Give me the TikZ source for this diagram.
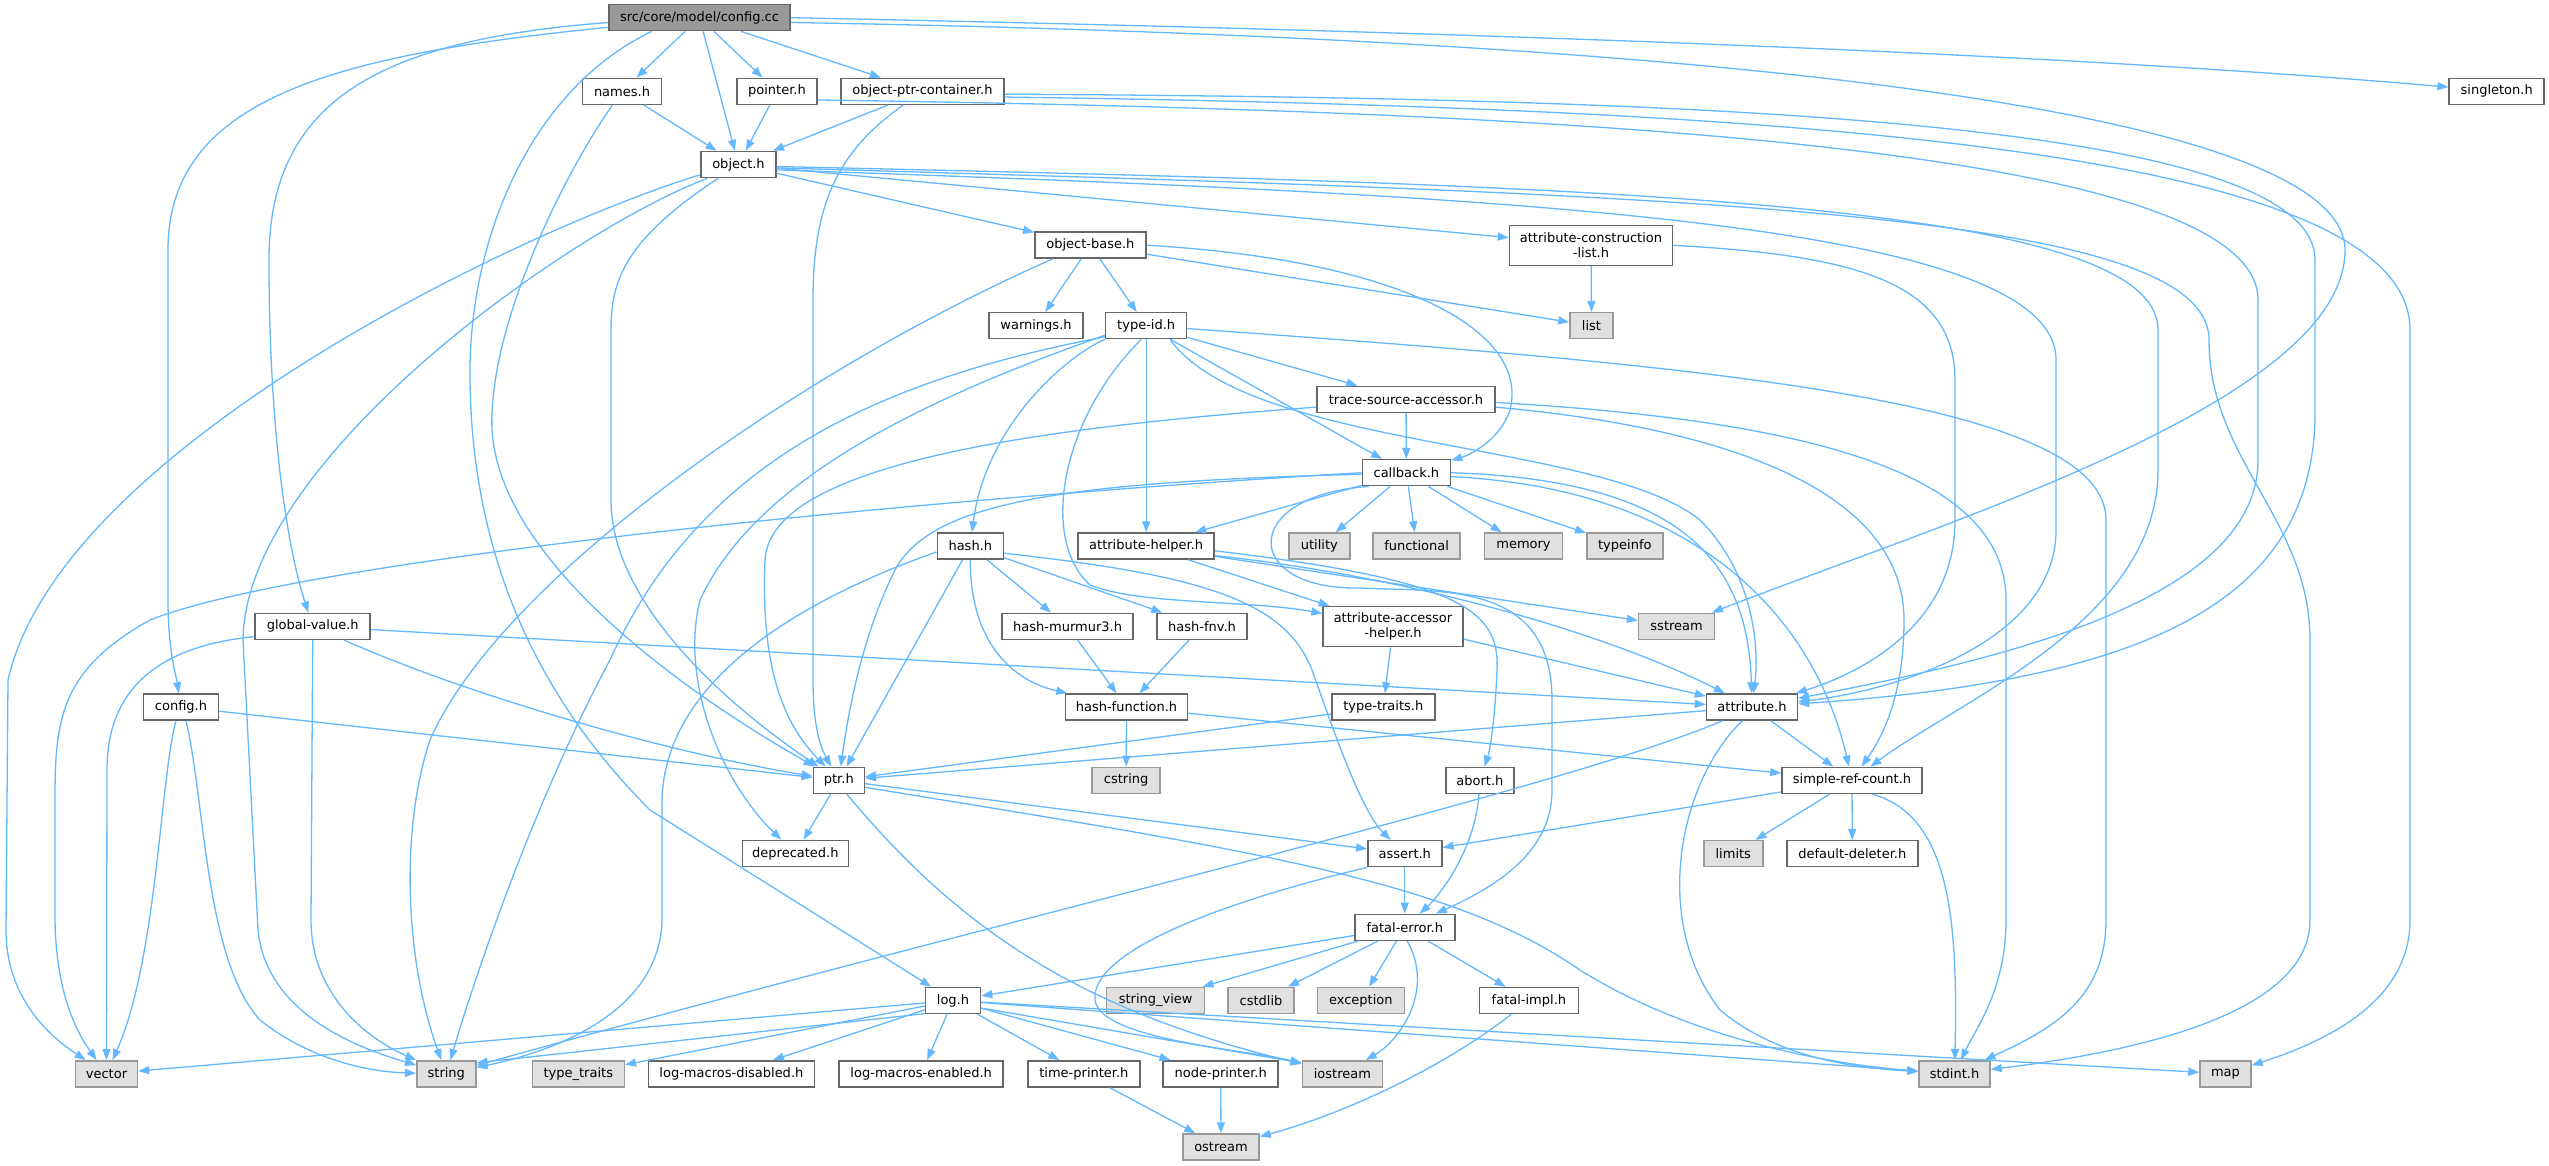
\documentclass[tikz,border=0pt]{standalone}
\usepackage{fontspec}
\setmainfont{DejaVu Sans}
\usetikzlibrary{arrows.meta}
\definecolor{eblue}{HTML}{63B8FF}
\definecolor{bdark}{HTML}{666666}
\definecolor{bmid}{HTML}{999999}
\definecolor{fext}{HTML}{E0E0E0}
\begin{document}
\begin{tikzpicture}[x=1pt,y=-1pt,
 nd/.style={draw=bdark, fill=white, line width=1.5pt, inner sep=0pt, minimum height=26pt, font=\fontsize{13}{15}\selectfont, align=center, text=black},
 ext/.style={nd, draw=bmid, fill=fext},
 rootnd/.style={nd, fill=bmid, draw=bdark},
 dep/.style={draw=eblue, line width=1.3pt, -{Triangle[length=11pt,width=8pt]}}]
\useasboundingbox (0,0) rectangle (2549,1165);
\fill[white] (0,0) rectangle (2549,1165);
% nodes
\node[rootnd, minimum width=181pt] (cc) at (699.5,17.7) {src/core/model/config.cc};
\node[nd, minimum width=79pt] (names) at (622,91.3) {names.h};
\node[nd, minimum width=80pt] (pointer) at (777,91.3) {pointer.h};
\node[nd, minimum width=163pt] (opc) at (922.5,91.3) {object-ptr-container.h};
\node[nd, minimum width=95pt] (singleton) at (2496.7,91.3) {singleton.h};
\node[nd, minimum width=75pt] (object) at (738.5,164.5) {object.h};
\node[nd, minimum width=111pt] (objbase) at (1090.4,245.2) {object-base.h};
\node[nd, minimum width=163pt, minimum height=40pt] (acl) at (1591,245.3) {attribute-construction\\-list.h};
\node[nd, minimum width=94pt] (warnings) at (1036,325.7) {warnings.h};
\node[nd, minimum width=81pt] (typeid) at (1146.2,325.7) {type-id.h};
\node[ext, minimum width=43pt] (list) at (1591.5,325.7) {list};
\node[nd, minimum width=178pt] (tsa) at (1406,399.3) {trace-source-accessor.h};
\node[nd, minimum width=88pt] (callback) at (1406.4,472.7) {callback.h};
\node[nd, minimum width=66pt] (hash) at (970.3,546) {hash.h};
\node[nd, minimum width=136pt] (ahelper) at (1146.2,546) {attribute-helper.h};
\node[ext, minimum width=61pt] (utility) at (1319.3,546) {utility};
\node[ext, minimum width=87pt] (functional) at (1416.6,546) {functional};
\node[ext, minimum width=78pt] (memory) at (1523.5,546) {memory};
\node[ext, minimum width=76pt] (typeinfo) at (1624.8,546) {typeinfo};
\node[nd, minimum width=131pt] (murmur) at (1067.6,626.3) {hash-murmur3.h};
\node[nd, minimum width=90pt] (fnv) at (1202,626.3) {hash-fnv.h};
\node[nd, minimum width=140pt, minimum height=40pt] (aah) at (1393,626.7) {attribute-accessor\\-helper.h};
\node[ext, minimum width=76pt] (sstream) at (1676.6,626.3) {sstream};
\node[nd, minimum width=115pt] (gv) at (312.7,626.3) {global-value.h};
\node[nd, minimum width=75pt] (configh) at (181,707) {config.h};
\node[nd, minimum width=122pt] (hashfn) at (1126.5,707) {hash-function.h};
\node[nd, minimum width=103pt] (typetraits) at (1383.3,707) {type-traits.h};
\node[nd, minimum width=91pt] (attribute) at (1752,707) {attribute.h};
\node[nd, minimum width=51pt] (ptr) at (838.8,780.3) {ptr.h};
\node[ext, minimum width=68pt] (cstring) at (1126.2,780.3) {cstring};
\node[nd, minimum width=68pt] (abort) at (1479.9,780.3) {abort.h};
\node[nd, minimum width=140pt] (src) at (1852,780.3) {simple-ref-count.h};
\node[nd, minimum width=106pt] (deprecated) at (795.4,853.5) {deprecated.h};
\node[nd, minimum width=74pt] (assert) at (1404.8,853.7) {assert.h};
\node[ext, minimum width=59pt] (limits) at (1733.3,853.7) {limits};
\node[nd, minimum width=131pt] (deleter) at (1852.3,853.7) {default-deleter.h};
\node[nd, minimum width=100pt] (fatal) at (1404.8,927.3) {fatal-error.h};
\node[nd, minimum width=55pt] (log) at (953,1000.5) {log.h};
\node[ext, minimum width=98pt] (stringview) at (1155.7,1000.5) {string\_view};
\node[ext, minimum width=66pt] (cstdlib) at (1261,1000.5) {cstdlib};
\node[ext, minimum width=87pt] (exception) at (1360.8,1000.5) {exception};
\node[nd, minimum width=99pt] (fatalimpl) at (1528.9,1000.5) {fatal-impl.h};
\node[ext, minimum width=62pt] (vector) at (106.5,1073.8) {vector};
\node[ext, minimum width=59pt] (string) at (446.3,1073.8) {string};
\node[ext, minimum width=92pt] (ttraits) at (578.3,1073.8) {type\_traits};
\node[nd, minimum width=166pt] (lmd) at (731.4,1073.8) {log-macros-disabled.h};
\node[nd, minimum width=164pt] (lme) at (921.2,1073.8) {log-macros-enabled.h};
\node[nd, minimum width=112pt] (timep) at (1083.9,1073.8) {time-printer.h};
\node[nd, minimum width=115pt] (nodep) at (1220.7,1073.8) {node-printer.h};
\node[ext, minimum width=80pt] (iostream) at (1342.4,1073.8) {iostream};
\node[ext, minimum width=71pt] (stdint) at (1954.5,1073.8) {stdint.h};
\node[ext, minimum width=51pt] (map) at (2225.5,1073.8) {map};
\node[ext, minimum width=76pt] (ostream) at (1221,1147) {ostream};
% edges from config.cc
\draw[dep] (cc) -- (names);
\draw[dep] (cc) -- (object);
\draw[dep] (cc) -- (pointer);
\draw[dep] (cc) -- (opc);
\draw[dep] (cc.east) .. controls (1300,28) and (2000,48) .. (singleton);
\draw[dep] (cc.-3) .. controls (1800,40) and (2345,120) .. (2345,250) .. controls (2345,400) and (1950,520) .. (sstream);
\draw[dep] (cc.186) .. controls (330,55) and (168,100) .. (168,250) -- (168,600) .. controls (168,650) and (176,675) .. (configh);
\draw[dep] (cc.183) .. controls (380,40) and (269,100) .. (269,260) .. controls (269,420) and (285,540) .. (gv);
\draw[dep] (cc.196) .. controls (530,90) and (468,240) .. (470,380) .. controls (472,560) and (540,700) .. (650,810) -- (log);
% names, pointer, object-ptr-container
\draw[dep] (names) -- (object);
\draw[dep] (names) .. controls (560,180) and (488,330) .. (492,430) .. controls (500,560) and (680,690) .. (ptr);
\draw[dep] (pointer) -- (object);
\draw[dep] (pointer.348) .. controls (1500,110) and (2258,140) .. (2258,300) -- (2258,460) .. controls (2258,600) and (2000,660) .. (attribute);
\draw[dep] (opc) -- (object);
\draw[dep] (opc) .. controls (840,150) and (813,200) .. (813,300) -- (813,680) .. controls (813,730) and (822,750) .. (ptr);
\draw[dep] (opc.-2) .. controls (1700,98) and (2315,120) .. (2315,260) -- (2315,420) .. controls (2310,600) and (2150,680) .. (attribute);
\draw[dep] (opc.-4) .. controls (1800,108) and (2410,150) .. (2410,330) -- (2410,920) .. controls (2410,1000) and (2330,1040) .. (map);
% object.h
\draw[dep] (object.195) .. controls (520,230) and (60,450) .. (8,680) -- (6,930) .. controls (6,990) and (40,1030) .. (vector);
\draw[dep] (object.204) .. controls (570,230) and (245,460) .. (243,640) -- (258,930) .. controls (265,1000) and (330,1040) .. (string);
\draw[dep] (object.214) .. controls (625,240) and (611,280) .. (611,330) -- (611,500) .. controls (611,600) and (720,700) .. (ptr);
\draw[dep] (object) -- (objbase);
\draw[dep] (object) -- (acl);
\draw[dep] (object.-8) .. controls (1500,195) and (2056,220) .. (2056,360) -- (2056,530) .. controls (2056,640) and (1900,690) .. (attribute);
\draw[dep] (object.-3) .. controls (1600,185) and (2158,200) .. (2158,330) -- (2158,470) .. controls (2158,620) and (1960,700) .. (src);
\draw[dep] (object.-5) .. controls (1700,195) and (2209,210) .. (2209,340) .. controls (2209,460) and (2310,520) .. (2310,640) -- (2310,920) .. controls (2310,1010) and (2150,1050) .. (stdint);
% object-base.h
\draw[dep] (objbase) -- (warnings);
\draw[dep] (objbase) -- (typeid);
\draw[dep] (objbase) -- (list);
\draw[dep] (objbase.east) .. controls (1400,260) and (1530,330) .. (1510,410) .. controls (1500,440) and (1470,455) .. (callback);
\draw[dep] (objbase.200) .. controls (800,370) and (500,580) .. (430,740) .. controls (400,830) and (405,960) .. (string);
% attribute-construction-list.h
\draw[dep] (acl) -- (list);
\draw[dep] (acl.east) .. controls (1850,255) and (1955,280) .. (1955,380) -- (1955,520) .. controls (1955,620) and (1870,670) .. (attribute);
% type-id.h
\draw[dep] (typeid) -- (tsa);
\draw[dep] (typeid.-4) .. controls (1700,365) and (2106,400) .. (2106,520) -- (2106,920) .. controls (2106,1000) and (2050,1030) .. (stdint);
\draw[dep] (typeid) -- (callback);
\draw[dep] (typeid.330) .. controls (1250,450) and (1600,440) .. (1700,520) .. controls (1750,570) and (1760,640) .. (attribute);
\draw[dep] (typeid) -- (ahelper);
\draw[dep] (typeid.250) .. controls (1060,420) and (1040,540) .. (1090,585) .. controls (1140,605) and (1250,600) .. (aah);
\draw[dep] (typeid.198) .. controls (1060,360) and (985,430) .. (hash);
\draw[dep] (typeid.193) .. controls (950,390) and (760,470) .. (700,600) .. controls (680,680) and (720,780) .. (deprecated);
\draw[dep] (typeid.195) .. controls (880,380) and (700,460) .. (610,660) .. controls (540,790) and (480,960) .. (string);
% trace-source-accessor.h
\draw[dep] (tsa) -- (callback);
\draw[dep] (tsa.185) .. controls (1000,430) and (770,470) .. (765,560) .. controls (760,680) and (790,730) .. (ptr);
\draw[dep] (tsa.-5) .. controls (1750,430) and (1904,500) .. (1904,620) .. controls (1904,700) and (1880,740) .. (src);
\draw[dep] (tsa.-2) .. controls (1800,420) and (2006,470) .. (2006,600) -- (2006,920) .. controls (2006,990) and (1975,1030) .. (stdint);
% callback.h
\draw[dep] (callback) -- (ahelper);
\draw[dep] (callback) -- (utility);
\draw[dep] (callback) -- (functional);
\draw[dep] (callback) -- (memory);
\draw[dep] (callback) -- (typeinfo);
\draw[dep] (callback.west) .. controls (900,500) and (300,560) .. (150,620) .. controls (60,670) and (55,720) .. (55,800) -- (55,920) .. controls (56,990) and (75,1030) .. (vector);
\draw[dep] (callback.182) .. controls (1050,482) and (930,505) .. (895,570) .. controls (865,630) and (850,700) .. (ptr);
\draw[dep] (callback.east) .. controls (1680,480) and (1748,560) .. (attribute);
\draw[dep] (callback.-5) .. controls (1720,490) and (1820,640) .. (src);
\draw[dep] (callback.200) .. controls (1240,495) and (1240,590) .. (1360,588) .. controls (1440,592) and (1552,580) .. (1552,700) -- (1552,790) .. controls (1552,850) and (1500,885) .. (fatal);
% attribute-helper.h
\draw[dep] (ahelper) -- (aah);
\draw[dep] (ahelper) -- (sstream);
\draw[dep] (ahelper.-8) .. controls (1400,575) and (1600,630) .. (attribute);
\draw[dep] (ahelper.-4) .. controls (1460,580) and (1500,610) .. (1497,670) .. controls (1495,720) and (1490,750) .. (abort);
% hash.h
\draw[dep] (hash) -- (murmur);
\draw[dep] (hash) -- (fnv);
\draw[dep] (hash.south) .. controls (970,640) and (1010,680) .. (hashfn);
\draw[dep] (hash) -- (ptr);
\draw[dep] (hash.190) .. controls (800,600) and (665,680) .. (662,800) -- (662,920) .. controls (660,1010) and (560,1050) .. (string);
\draw[dep] (hash.-12) .. controls (1200,575) and (1285,600) .. (1312,670) .. controls (1330,720) and (1360,810) .. (assert);
\draw[dep] (murmur) -- (hashfn);
\draw[dep] (fnv) -- (hashfn);
% attribute-accessor-helper.h, type-traits.h, hash-function.h
\draw[dep] (aah) -- (typetraits);
\draw[dep] (aah.-10) -- (attribute);
\draw[dep] (typetraits) -- (ptr);
\draw[dep] (hashfn) -- (src);
\draw[dep] (hashfn) -- (cstring);
% global-value.h, config.h
\draw[dep] (gv) -- (attribute);
\draw[dep] (gv) .. controls (480,700) and (680,755) .. (ptr);
\draw[dep] (gv.south) -- (311,920) .. controls (311,990) and (360,1035) .. (string);
\draw[dep] (gv.190) .. controls (170,645) and (107,680) .. (107,770) -- (vector);
\draw[dep] (configh) -- (ptr);
\draw[dep] (configh.250) .. controls (160,780) and (157,960) .. (vector);
\draw[dep] (configh.290) .. controls (205,800) and (205,960) .. (260,1020) .. controls (310,1060) and (370,1072) .. (string);
% attribute.h
\draw[dep] (attribute) -- (ptr);
\draw[dep] (attribute) -- (src);
\draw[dep] (attribute.235) .. controls (1680,780) and (1650,920) .. (1720,1010) .. controls (1780,1060) and (1860,1068) .. (stdint);
\draw[dep] (attribute.205) .. controls (1560,790) and (1000,920) .. (string);
% ptr.h
\draw[dep] (ptr) -- (deprecated);
\draw[dep] (ptr) -- (assert);
\draw[dep] (ptr.-60) .. controls (960,930) and (1080,1010) .. (iostream);
\draw[dep] (ptr.-15) .. controls (1250,850) and (1450,880) .. (1580,970) .. controls (1700,1045) and (1850,1066) .. (stdint);
% simple-ref-count.h
\draw[dep] (src) -- (assert);
\draw[dep] (src) -- (limits);
\draw[dep] (src) -- (deleter);
\draw[dep] (src.-35) .. controls (1950,815) and (1958,920) .. (stdint);
% assert.h, abort.h
\draw[dep] (assert) -- (fatal);
\draw[dep] (assert.200) .. controls (1230,900) and (1090,950) .. (1095,1000) .. controls (1100,1040) and (1250,1050) .. (iostream);
\draw[dep] (abort) .. controls (1475,850) and (1440,895) .. (fatal);
% fatal-error.h
\draw[dep] (fatal) -- (log);
\draw[dep] (fatal) -- (stringview);
\draw[dep] (fatal) -- (cstdlib);
\draw[dep] (fatal) -- (exception);
\draw[dep] (fatal) -- (fatalimpl);
\draw[dep] (fatal.-80) .. controls (1435,990) and (1400,1040) .. (iostream);
\draw[dep] (fatalimpl) .. controls (1440,1070) and (1340,1115) .. (ostream);
% log.h
\draw[dep] (log) -- (vector);
\draw[dep] (log.205) -- (string.20);
\draw[dep] (log) -- (ttraits);
\draw[dep] (log) -- (lmd);
\draw[dep] (log) -- (lme);
\draw[dep] (log) -- (timep);
\draw[dep] (log) -- (nodep);
\draw[dep] (log.-15) -- (iostream.165);
\draw[dep] (log) -- (stdint);
\draw[dep] (log) -- (map);
\draw[dep] (timep) -- (ostream);
\draw[dep] (nodep) -- (ostream);
\end{tikzpicture}
\end{document}
